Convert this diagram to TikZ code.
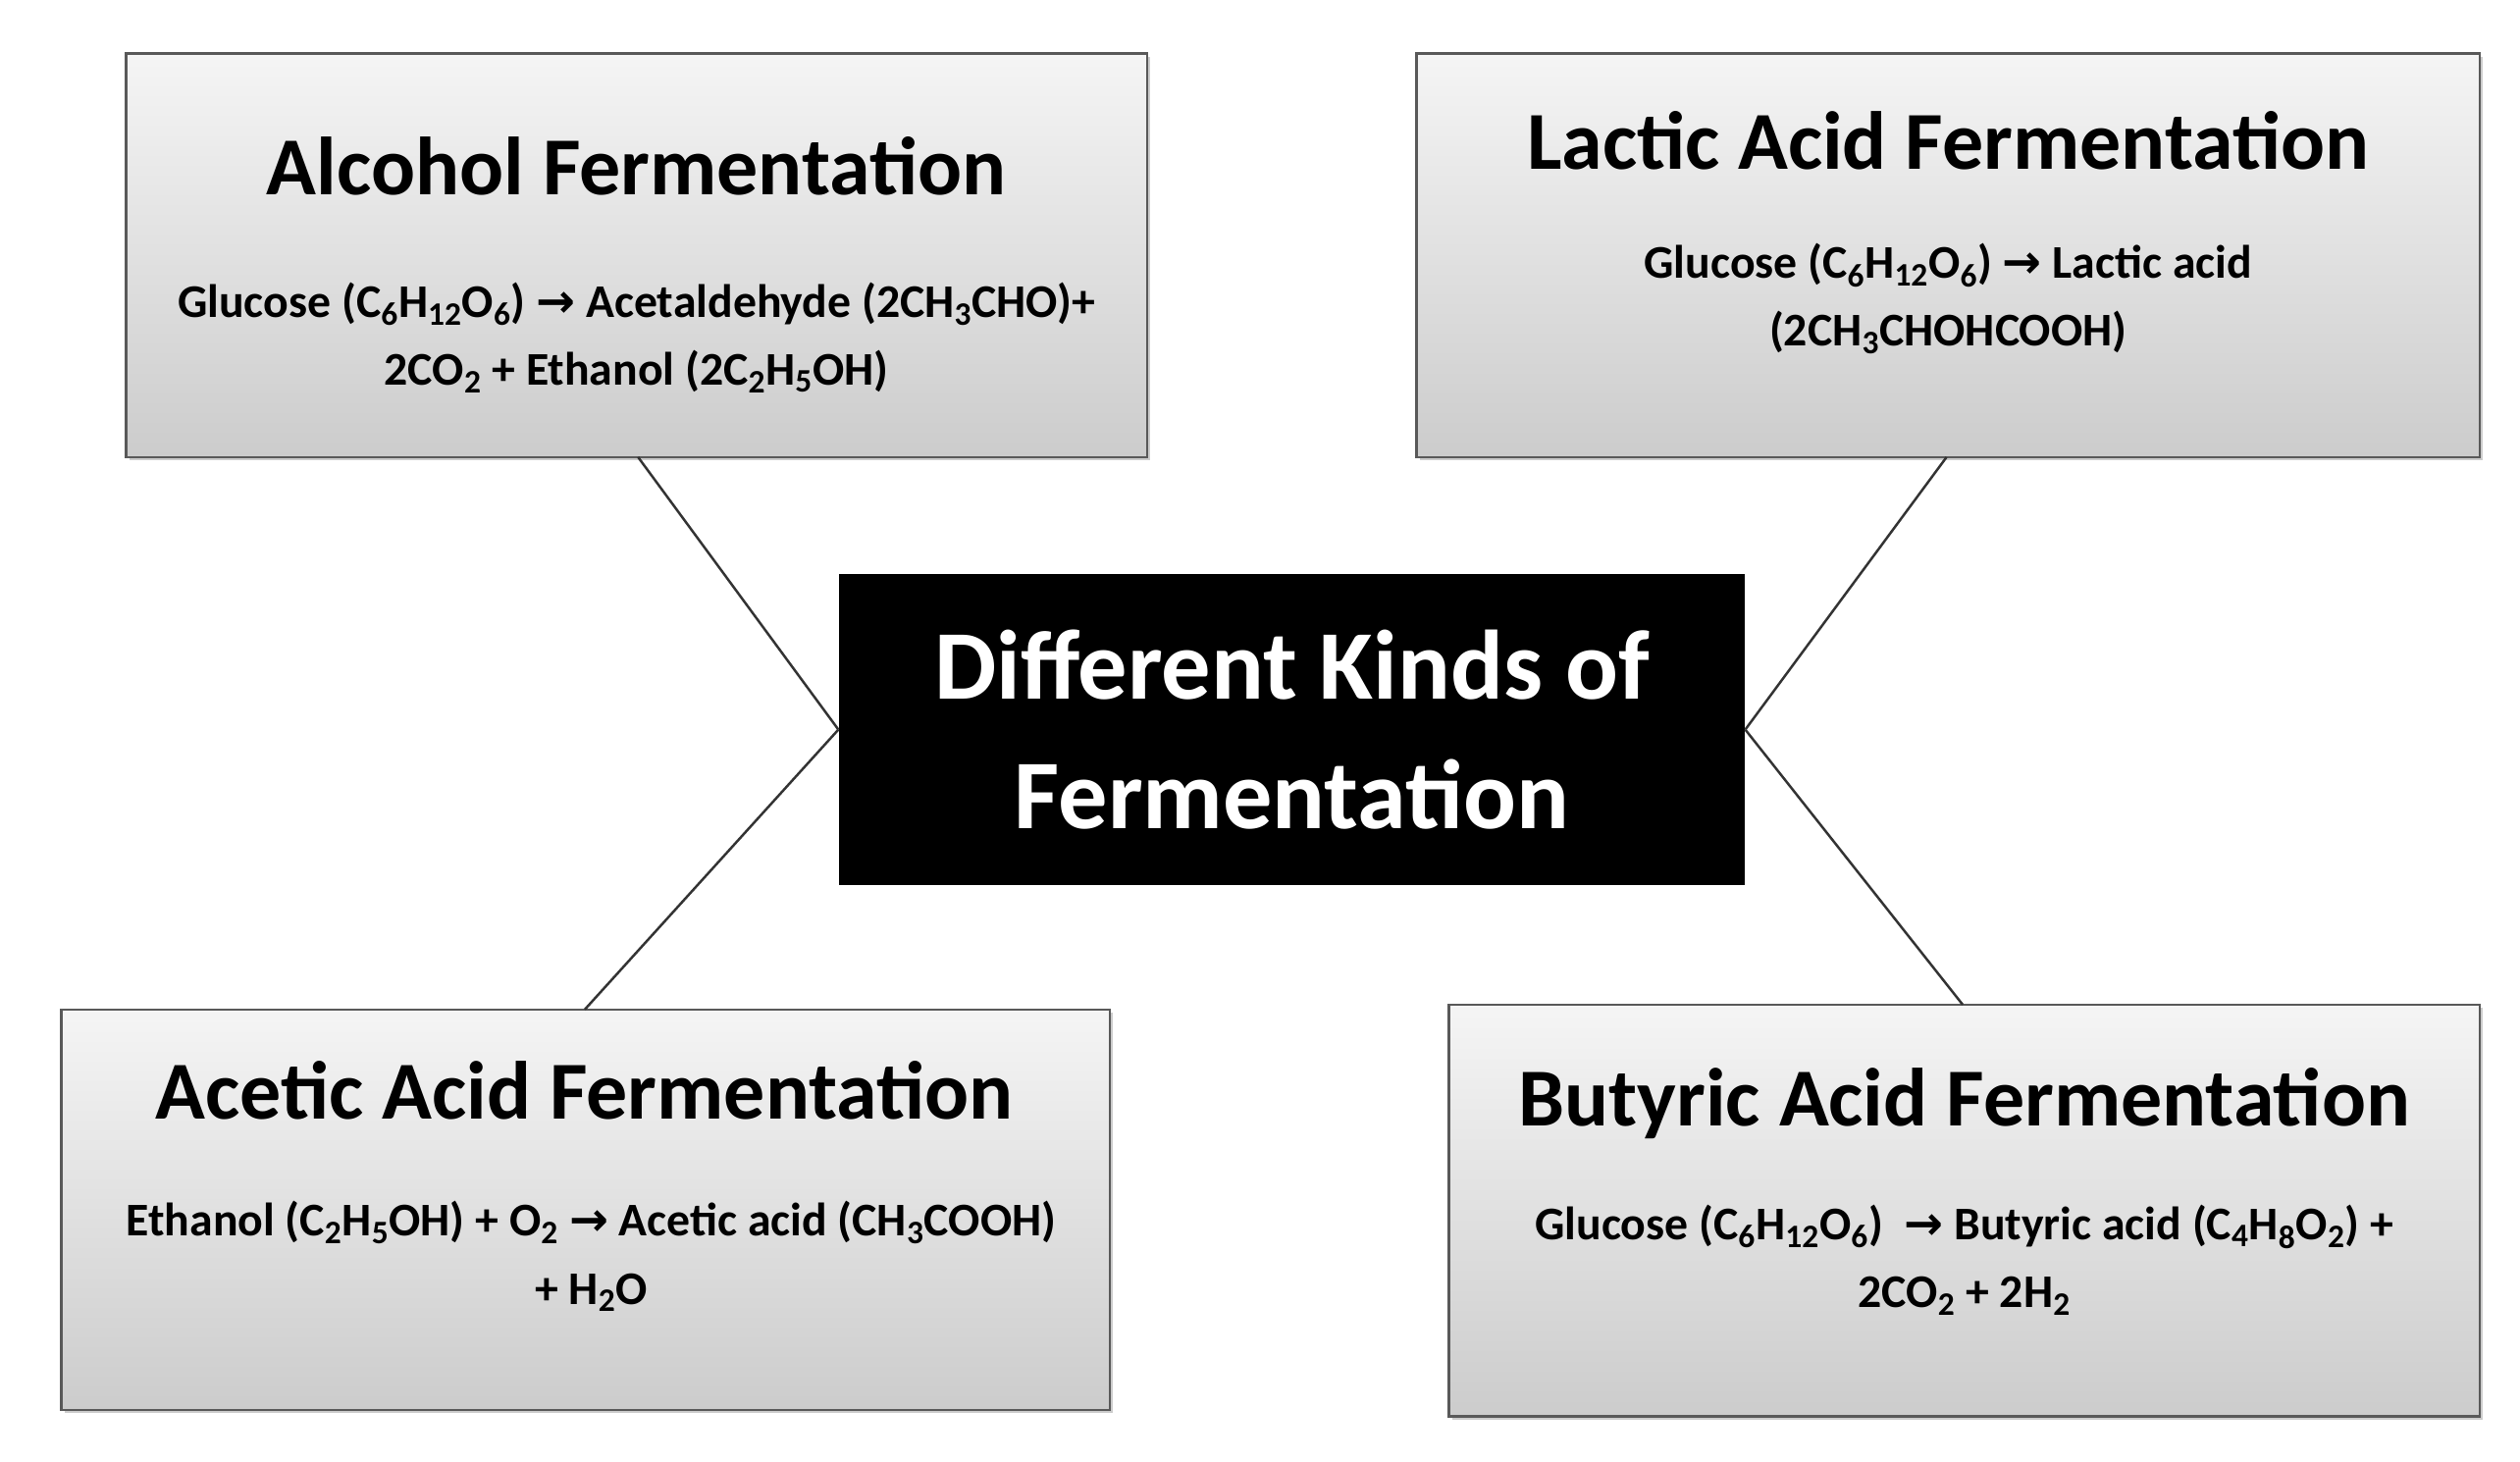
\documentclass[tikz,border=0pt]{standalone}
\usepackage{fontspec}
\setmainfont{Carlito}
\newfontfamily\arrfont{DejaVu Sans}
\usetikzlibrary{shadows}
\newcommand{\sbs}[1]{\textsubscript{#1}}
\newcommand{\arr}{ {\arrfont\bfseries →} }
\begin{document}
\begin{tikzpicture}[x=1pt,y=-1pt,
  fbox/.style={draw=gray!70!black,line width=1.5pt,top color=gray!8,bottom color=gray!40,
    drop shadow={shadow xshift=2pt,shadow yshift=-2pt,opacity=0.4}},
  ttl/.style={font=\fontsize{51}{60}\selectfont\bfseries},
  bdy/.style={font=\fontsize{29}{42}\selectfont\bfseries,align=center},
  conn/.style={draw=gray!40!black,line width=1.5pt}]
\useasboundingbox (0,0) rectangle (1560,905);
\fill[white] (0,0) rectangle (1560,905);
% boxes
\path[fbox] (78,33) rectangle (710,283);
\path[fbox] (877,33) rectangle (1535,283);
\path[fbox] (38,625) rectangle (687,873);
\path[fbox] (897,622) rectangle (1535,877);
\node[fill=black,minimum width=561pt,minimum height=193pt,anchor=north west,inner sep=0pt] (c) at (519,355) {};
\node[text=white,align=center,font=\fontsize{61}{80}\selectfont\bfseries] at (c) {Different Kinds of\\Fermentation};
% titles
\node[ttl] (t1) at (394,103) {Alcohol Fermentation};
\node[bdy] (b1) at (394,209) {Glucose (C\sbs{6}H\sbs{12}O\sbs{6})\arr Acetaldehyde (2CH\sbs{3}CHO)+\\2CO\sbs{2} + Ethanol (2C\sbs{2}H\sbs{5}OH)};
\node[ttl] (t2) at (1206,87) {Lactic Acid Fermentation};
\node[bdy] (b2) at (1206,185) {Glucose (C\sbs{6}H\sbs{12}O\sbs{6})\arr Lactic acid\\(2CH\sbs{3}CHOHCOOH)};
\node[ttl] (t3) at (362,675) {Acetic Acid Fermentation};
\node[bdy] (b3) at (366,778) {Ethanol (C\sbs{2}H\sbs{5}OH) + O\sbs{2}\arr Acetic acid (CH\sbs{3}COOH)\\+ H\sbs{2}O};
\node[ttl] (t4) at (1216,683) {Butyric Acid Fermentation};
\node[bdy] (b4) at (1216,780) {Glucose (C\sbs{6}H\sbs{12}O\sbs{6}) \arr Butyric acid (C\sbs{4}H\sbs{8}O\sbs{2}) +\\2CO\sbs{2} + 2H\sbs{2}};
% connectors
\coordinate (p1) at (395,283); \coordinate (p2) at (1205,283);
\coordinate (p3) at (362,625); \coordinate (p4) at (1215,622);
\draw[conn] (p1) -- (c.west);
\draw[conn] (p3) -- (c.west);
\draw[conn] (p2) -- (c.east);
\draw[conn] (p4) -- (c.east);
\end{tikzpicture}
\end{document}
